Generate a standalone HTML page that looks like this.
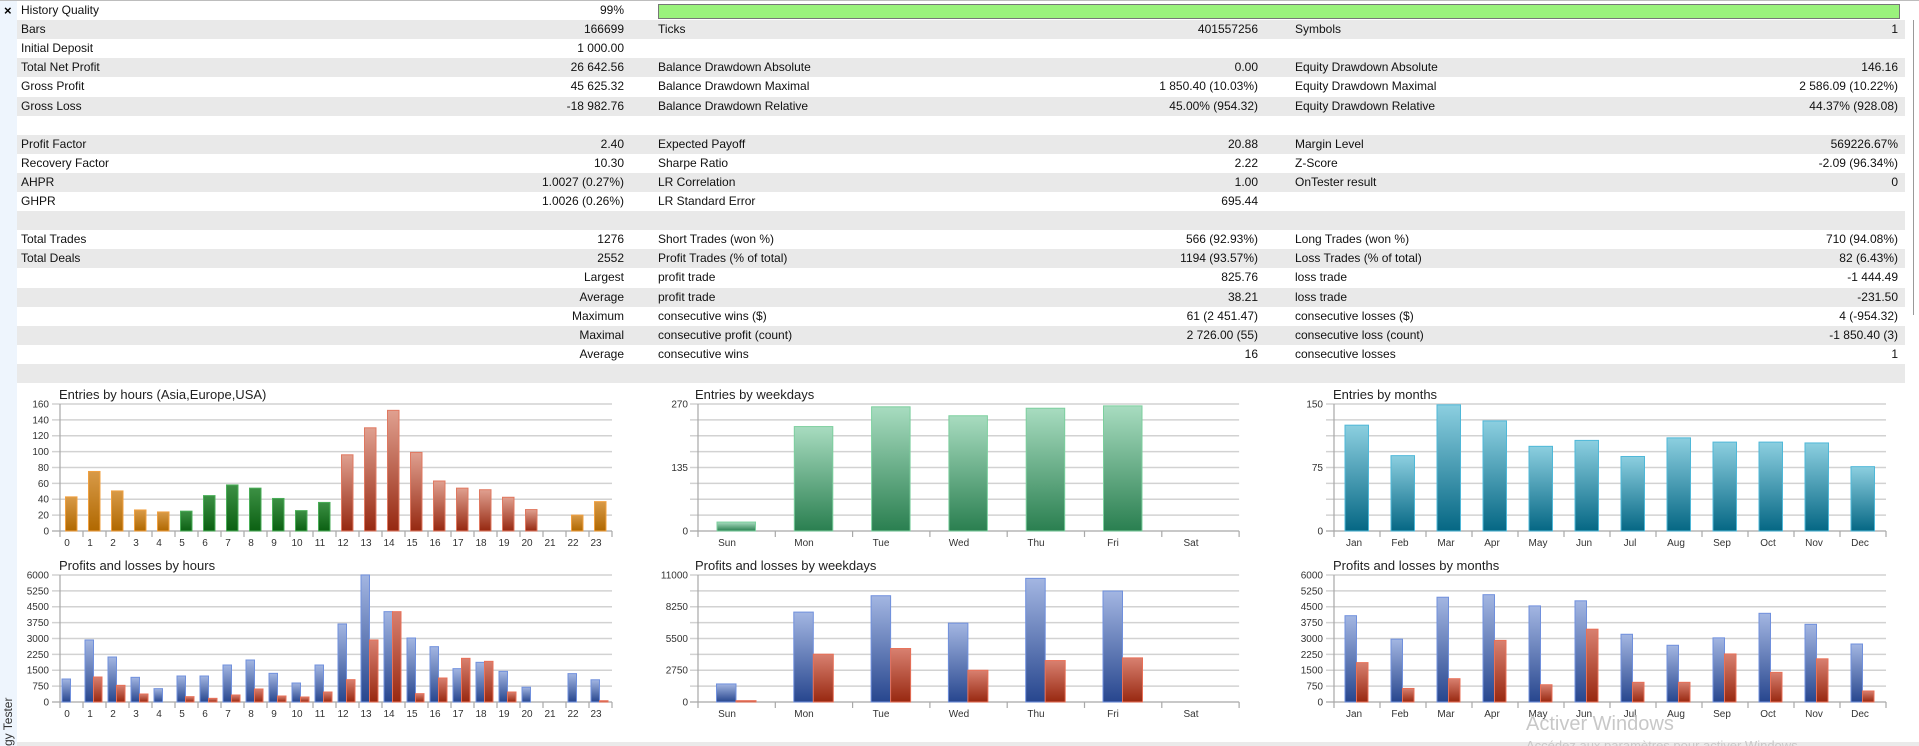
<!DOCTYPE html>
<html><head><meta charset="utf-8">
<style>
html,body{margin:0;padding:0;width:1919px;height:746px;overflow:hidden;background:#fff;font-family:"Liberation Sans",sans-serif;}
#side{position:absolute;left:0;top:0;width:17px;height:746px;background:#eef5fd;}
.r{position:absolute;left:17px;width:1888px;height:19.1px;font-size:12px;line-height:19px;color:#111;}
.g{background:#e9e9e9;}
.r span{position:absolute;white-space:nowrap;}
.l1{left:4px}.v1{right:1281px;text-align:right}
.l2{left:641px}.v2{right:647px;text-align:right}
.l3{left:1278px}.v3{right:7px;text-align:right}
svg text{font-family:"Liberation Sans",sans-serif;}
</style></head><body>
<div id="side"></div>
<div style="position:absolute;left:0;top:0;width:1919px;height:1px;background:#bdbdbd"></div>
<div style="position:absolute;left:4px;top:1px;font-size:13px;font-weight:bold;line-height:19px">×</div>
<div style="position:absolute;left:1913px;top:20px;width:1px;height:295px;background:#999"></div>
<div class="r" style="top:1px"><span class="l1">History Quality</span><span class="v1">99%</span></div>
<div style="position:absolute;left:658px;top:4px;width:1240px;height:13px;background:#9af27c;border:1px solid #777"></div>
<div class="r g" style="top:20.1px"><span class="l1">Bars</span><span class="v1">166699</span><span class="l2">Ticks</span><span class="v2">401557256</span><span class="l3">Symbols</span><span class="v3">1</span></div>
<div class="r" style="top:39.2px"><span class="l1">Initial Deposit</span><span class="v1">1 000.00</span></div>
<div class="r g" style="top:58.3px"><span class="l1">Total Net Profit</span><span class="v1">26 642.56</span><span class="l2">Balance Drawdown Absolute</span><span class="v2">0.00</span><span class="l3">Equity Drawdown Absolute</span><span class="v3">146.16</span></div>
<div class="r" style="top:77.4px"><span class="l1">Gross Profit</span><span class="v1">45 625.32</span><span class="l2">Balance Drawdown Maximal</span><span class="v2">1 850.40 (10.03%)</span><span class="l3">Equity Drawdown Maximal</span><span class="v3">2 586.09 (10.22%)</span></div>
<div class="r g" style="top:96.5px"><span class="l1">Gross Loss</span><span class="v1">-18 982.76</span><span class="l2">Balance Drawdown Relative</span><span class="v2">45.00% (954.32)</span><span class="l3">Equity Drawdown Relative</span><span class="v3">44.37% (928.08)</span></div>
<div class="r" style="top:115.6px"></div>
<div class="r g" style="top:134.7px"><span class="l1">Profit Factor</span><span class="v1">2.40</span><span class="l2">Expected Payoff</span><span class="v2">20.88</span><span class="l3">Margin Level</span><span class="v3">569226.67%</span></div>
<div class="r" style="top:153.8px"><span class="l1">Recovery Factor</span><span class="v1">10.30</span><span class="l2">Sharpe Ratio</span><span class="v2">2.22</span><span class="l3">Z-Score</span><span class="v3">-2.09 (96.34%)</span></div>
<div class="r g" style="top:172.9px"><span class="l1">AHPR</span><span class="v1">1.0027 (0.27%)</span><span class="l2">LR Correlation</span><span class="v2">1.00</span><span class="l3">OnTester result</span><span class="v3">0</span></div>
<div class="r" style="top:192px"><span class="l1">GHPR</span><span class="v1">1.0026 (0.26%)</span><span class="l2">LR Standard Error</span><span class="v2">695.44</span></div>
<div class="r g" style="top:211.1px"></div>
<div class="r" style="top:230.2px"><span class="l1">Total Trades</span><span class="v1">1276</span><span class="l2">Short Trades (won %)</span><span class="v2">566 (92.93%)</span><span class="l3">Long Trades (won %)</span><span class="v3">710 (94.08%)</span></div>
<div class="r g" style="top:249.3px"><span class="l1">Total Deals</span><span class="v1">2552</span><span class="l2">Profit Trades (% of total)</span><span class="v2">1194 (93.57%)</span><span class="l3">Loss Trades (% of total)</span><span class="v3">82 (6.43%)</span></div>
<div class="r" style="top:268.4px"><span class="v1">Largest</span><span class="l2">profit trade</span><span class="v2">825.76</span><span class="l3">loss trade</span><span class="v3">-1 444.49</span></div>
<div class="r g" style="top:287.5px"><span class="v1">Average</span><span class="l2">profit trade</span><span class="v2">38.21</span><span class="l3">loss trade</span><span class="v3">-231.50</span></div>
<div class="r" style="top:306.6px"><span class="v1">Maximum</span><span class="l2">consecutive wins ($)</span><span class="v2">61 (2 451.47)</span><span class="l3">consecutive losses ($)</span><span class="v3">4 (-954.32)</span></div>
<div class="r g" style="top:325.7px"><span class="v1">Maximal</span><span class="l2">consecutive profit (count)</span><span class="v2">2 726.00 (55)</span><span class="l3">consecutive loss (count)</span><span class="v3">-1 850.40 (3)</span></div>
<div class="r" style="top:344.8px"><span class="v1">Average</span><span class="l2">consecutive wins</span><span class="v2">16</span><span class="l3">consecutive losses</span><span class="v3">1</span></div>
<div class="r g" style="top:363.9px"></div>
<div style="position:absolute;left:17px;top:742px;width:1902px;height:4px;background:#eaeaea"></div>

<svg id="ch" width="1919" height="746" style="position:absolute;left:0;top:0" xmlns="http://www.w3.org/2000/svg">
<defs>
<linearGradient id="gO" x1="0" y1="0" x2="0" y2="1"><stop offset="0" stop-color="#d89a48"/><stop offset="1" stop-color="#b06800"/></linearGradient>
<linearGradient id="gG" x1="0" y1="0" x2="0" y2="1"><stop offset="0" stop-color="#3c9044"/><stop offset="1" stop-color="#0b6012"/></linearGradient>
<linearGradient id="gR" x1="0" y1="0" x2="0" y2="1"><stop offset="0" stop-color="#e0a090"/><stop offset="1" stop-color="#962810"/></linearGradient>
<linearGradient id="gW" x1="0" y1="0" x2="0" y2="1"><stop offset="0" stop-color="#a8dcc0"/><stop offset="1" stop-color="#2a7f50"/></linearGradient>
<linearGradient id="gT" x1="0" y1="0" x2="0" y2="1"><stop offset="0" stop-color="#8ccfe0"/><stop offset="1" stop-color="#056784"/></linearGradient>
<linearGradient id="gB" x1="0" y1="0" x2="0" y2="1"><stop offset="0" stop-color="#a3b6e2"/><stop offset="1" stop-color="#27468e"/></linearGradient>
<linearGradient id="gL" x1="0" y1="0" x2="0" y2="1"><stop offset="0" stop-color="#d88070"/><stop offset="1" stop-color="#982810"/></linearGradient>
</defs>
<g id="grid"></g>
<g id="bars"></g>
<g font-size="13" fill="#222">
<text x="59" y="399">Entries by hours (Asia,Europe,USA)</text>
<text x="59" y="570">Profits and losses by hours</text>
<text x="695" y="399">Entries by weekdays</text>
<text x="695" y="570">Profits and losses by weekdays</text>
<text x="1333" y="399">Entries by months</text>
<text x="1333" y="570">Profits and losses by months</text>
</g>
<g font-size="10" fill="#333" text-anchor="end">
<text x="49" y="534.5">0</text><text x="49" y="518.6">20</text><text x="49" y="502.7">40</text><text x="49" y="486.9">60</text><text x="49" y="471">80</text><text x="49" y="455.1">100</text><text x="49" y="439.2">120</text><text x="49" y="423.4">140</text><text x="49" y="407.5">160</text>
<text x="49" y="705.5">0</text><text x="49" y="689.6">750</text><text x="49" y="673.7">1500</text><text x="49" y="657.9">2250</text><text x="49" y="642">3000</text><text x="49" y="626.1">3750</text><text x="49" y="610.2">4500</text><text x="49" y="594.4">5250</text><text x="49" y="578.5">6000</text>
<text x="688" y="534.5">0</text><text x="688" y="471">135</text><text x="688" y="407.5">270</text>
<text x="688" y="705.5">0</text><text x="688" y="673.7">2750</text><text x="688" y="642">5500</text><text x="688" y="610.2">8250</text><text x="688" y="578.5">11000</text>
<text x="1323" y="534.5">0</text><text x="1323" y="471">75</text><text x="1323" y="407.5">150</text>
<text x="1323" y="705.5">0</text><text x="1323" y="689.6">750</text><text x="1323" y="673.7">1500</text><text x="1323" y="657.9">2250</text><text x="1323" y="642">3000</text><text x="1323" y="626.1">3750</text><text x="1323" y="610.2">4500</text><text x="1323" y="594.4">5250</text><text x="1323" y="578.5">6000</text>
</g>
<g font-size="10" fill="#333" text-anchor="middle">
<text x="67" y="546">0</text><text x="90" y="546">1</text><text x="113" y="546">2</text><text x="136" y="546">3</text><text x="159" y="546">4</text><text x="182" y="546">5</text><text x="205" y="546">6</text><text x="228" y="546">7</text><text x="251" y="546">8</text><text x="274" y="546">9</text><text x="297" y="546">10</text><text x="320" y="546">11</text><text x="343" y="546">12</text><text x="366" y="546">13</text><text x="389" y="546">14</text><text x="412" y="546">15</text><text x="435" y="546">16</text><text x="458" y="546">17</text><text x="481" y="546">18</text><text x="504" y="546">19</text><text x="527" y="546">20</text><text x="550" y="546">21</text><text x="573" y="546">22</text><text x="596" y="546">23</text>
<text x="67" y="717">0</text><text x="90" y="717">1</text><text x="113" y="717">2</text><text x="136" y="717">3</text><text x="159" y="717">4</text><text x="182" y="717">5</text><text x="205" y="717">6</text><text x="228" y="717">7</text><text x="251" y="717">8</text><text x="274" y="717">9</text><text x="297" y="717">10</text><text x="320" y="717">11</text><text x="343" y="717">12</text><text x="366" y="717">13</text><text x="389" y="717">14</text><text x="412" y="717">15</text><text x="435" y="717">16</text><text x="458" y="717">17</text><text x="481" y="717">18</text><text x="504" y="717">19</text><text x="527" y="717">20</text><text x="550" y="717">21</text><text x="573" y="717">22</text><text x="596" y="717">23</text>
<text x="727" y="546">Sun</text><text x="804" y="546">Mon</text><text x="881" y="546">Tue</text><text x="959" y="546">Wed</text><text x="1036" y="546">Thu</text><text x="1113" y="546">Fri</text><text x="1191" y="546">Sat</text>
<text x="727" y="717">Sun</text><text x="804" y="717">Mon</text><text x="881" y="717">Tue</text><text x="959" y="717">Wed</text><text x="1036" y="717">Thu</text><text x="1113" y="717">Fri</text><text x="1191" y="717">Sat</text>
<text x="1354" y="546">Jan</text><text x="1400" y="546">Feb</text><text x="1446" y="546">Mar</text><text x="1492" y="546">Apr</text><text x="1538" y="546">May</text><text x="1584" y="546">Jun</text><text x="1630" y="546">Jul</text><text x="1676" y="546">Aug</text><text x="1722" y="546">Sep</text><text x="1768" y="546">Oct</text><text x="1814" y="546">Nov</text><text x="1860" y="546">Dec</text>
<text x="1354" y="717">Jan</text><text x="1400" y="717">Feb</text><text x="1446" y="717">Mar</text><text x="1492" y="717">Apr</text><text x="1538" y="717">May</text><text x="1584" y="717">Jun</text><text x="1630" y="717">Jul</text><text x="1676" y="717">Aug</text><text x="1722" y="717">Sep</text><text x="1768" y="717">Oct</text><text x="1814" y="717">Nov</text><text x="1860" y="717">Dec</text>
</g>
<text transform="translate(12,746) rotate(-90)" font-size="12" fill="#333">gy Tester</text>
<text x="1526" y="730" font-size="20" fill="#c8c8c8">Activer Windows</text>
<text x="1526" y="750" font-size="13" fill="#c8c8c8">Accédez aux paramètres pour activer Windows.</text>
</svg>
<script>
var NS="http://www.w3.org/2000/svg",G=document.getElementById("grid"),B=document.getElementById("bars");
function el(p,t,a){var e=document.createElementNS(NS,t);for(var k in a)e.setAttribute(k,a[k]);p.appendChild(e);return e;}
function chart(left,cw,n,zero,top,max,series){
 var right=left+cw*n,h=zero-top;
 for(var i=0;i<=8;i++){var y=top+h*i/8;el(G,"line",{x1:left-8,x2:right,y1:y,y2:y,stroke:i==8?"#a8a8a8":"#d2d2d2","stroke-width":i==8?1.2:1.6});}
 el(G,"line",{x1:left,x2:left,y1:top,y2:zero+6,stroke:"#a8a8a8","stroke-width":1.2});
 for(var i=1;i<=n;i++){el(G,"line",{x1:left+cw*i,x2:left+cw*i,y1:zero,y2:zero+6,stroke:"#a8a8a8","stroke-width":1.2});}
 series.forEach(function(s){s.v.forEach(function(v,i){if(!v)return;var bh=v/max*h;var g=typeof s.g=="string"?s.g:s.g[i];var st=typeof s.s=="string"?s.s:s.s[i];
  el(B,"rect",{x:left+cw*i+s.o,y:zero-bh,width:s.w,height:bh,fill:"url(#"+g+")",stroke:st,"stroke-width":1});});});
}
var hg=[],hs=[];for(var i=0;i<24;i++){var c=(i<5||i>20)?["gO","#f0a040"]:(i<12?["gG","#4aae58"]:["gR","#e07860"]);hg.push(c[0]);hs.push(c[1]);}
chart(60,23,24,531,404,160,[{v:[43,75,50.5,26.5,24,25,44.6,58,54,41,25.7,36,96,130,152,99,63,54,52,42.5,27,0,20,37],o:5.5,w:11.5,g:hg,s:hs}]);
var hb=[0,658,541,592,653,687,649,649,616,601,641,670,616,493,346,456,535,561,627,608,635].slice(1).map(function(y){return (727-y)/381*6000;});
hb=hb.concat([700,0,1340,1050]);
var hr=[0,652,677,703,0,711,716,706,688,709,712,697,660,541,456,702,655,596,605,697].map(function(y){return y?(727-y)/381*6000:0;});
hr=hr.concat([0,0,0,60]);
chart(60,23,24,702,575,6000,[{v:hb,o:2,w:8.5,g:"gB",s:"#7090dd"},{v:hr,o:10.5,w:8.5,g:"gL",s:"#e87058"}]);
chart(698,77.3,7,531,404,270,[{v:[19,222,264,245,261,266,0],o:19,w:38.5,g:"gW",s:"#7ccf9e"}]);
chart(698,77.3,7,702,575,11000,[{v:[1563,7787,9205,6831,10710,9610,0],o:18.5,w:19.5,g:"gB",s:"#7090dd"},{v:[116,4140,4631,2750,3590,3821,0],o:38,w:20,g:"gL",s:"#e87058"}]);
chart(1334,46,12,531,404,150,[{v:[125,89,149,130,100,107,88,110,105,105,104,76],o:11,w:23.5,g:"gT",s:"#4fb8d8"}]);
chart(1334,46,12,702,575,6000,[{v:[4077,2970,4950,5070,4540,4780,3200,2680,3030,4190,3670,2740],o:11,w:11.5,g:"gB",s:"#7090dd"},{v:[1860,640,1100,2910,815,3440,930,930,2270,1400,2040,520],o:22.5,w:11.5,g:"gL",s:"#e87058"}]);
</script>
</body></html>
